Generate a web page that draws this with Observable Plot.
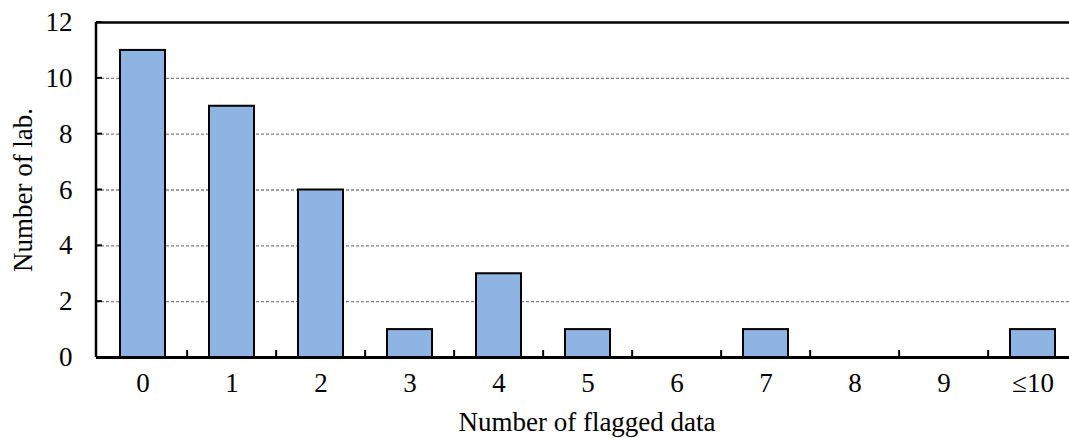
<!DOCTYPE html>
<html>
<head>
<meta charset="utf-8">
<script src="https://cdn.jsdelivr.net/npm/d3@7"></script>
<script src="https://cdn.jsdelivr.net/npm/@observablehq/plot@0.6"></script>
<style>
  html, body { margin: 0; padding: 0; background: #fff; }
  #chart svg { display: block; }
  #chart svg, #chart svg text { font-family: 'Liberation Serif', serif !important; }
</style>
</head>
<body>
<div id="chart"></div>
<script>
const categories = ["0", "1", "2", "3", "4", "5", "6", "7", "8", "9", "≤10"];
const counts = [11, 9, 6, 1, 3, 1, 0, 1, 0, 0, 1];
const yTicks = [0, 2, 4, 6, 8, 10, 12];
const gridValues = [2, 4, 6, 8, 10];
const xTitle = "Number of flagged data";
const yTitle = "Number of lab.";

const data = categories.map((c, i) => ({cat: c, n: counts[i]}));

const W = 1069, H = 438;
const xRange = [96, 1078];
const step = (xRange[1] - xRange[0]) / categories.length;
const font = "'Liberation Serif', serif";

// left axis line, inward y ticks and band-boundary ticks on the x axis
const extras = (index, scales, values, dims) => {
  const g = d3.create("svg:g");
  const x0 = dims.marginLeft;
  g.append("line").attr("x1", x0).attr("x2", x0)
    .attr("y1", scales.y(12)).attr("y2", scales.y(0))
    .attr("stroke", "#000").attr("stroke-width", 2.5);
  for (const t of yTicks) {
    g.append("line").attr("x1", x0).attr("x2", x0 + 6)
      .attr("y1", scales.y(t)).attr("y2", scales.y(t))
      .attr("stroke", "#000").attr("stroke-width", 2);
  }
  for (let i = 0; i < categories.length - 1; i++) {
    const bx = scales.x(categories[i]) + scales.x.bandwidth() / 2 + step / 2;
    g.append("line").attr("x1", bx).attr("x2", bx)
      .attr("y1", scales.y(0)).attr("y2", scales.y(0) - 7)
      .attr("stroke", "#000").attr("stroke-width", 2);
  }
  return g.node();
};

const chart = Plot.plot({
  width: W,
  height: H,
  marginLeft: 96,
  marginRight: 0,
  marginTop: 22,
  marginBottom: 81,
  style: {fontFamily: font, fontSize: "27px", color: "#000", background: "#fff"},
  x: {domain: categories, range: xRange, paddingInner: 0.5, paddingOuter: 0.25},
  y: {domain: [0, 12]},
  marks: [
    Plot.ruleY(gridValues, {stroke: "#808080", strokeWidth: 1.3, strokeDasharray: "3,2"}),
    Plot.barY(data, {x: "cat", y: "n", fill: "#8DB4E2", stroke: "#000", strokeWidth: 2}),
    Plot.ruleY([0], {stroke: "#000", strokeWidth: 3}),
    Plot.ruleY([12], {stroke: "#000", strokeWidth: 2.5}),
    extras,
    Plot.axisY({ticks: yTicks, tickSize: 0, tickPadding: 24, fontSize: 27, fill: "#000", label: null}),
    Plot.axisX({tickSize: 0, tickPadding: 15, fontSize: 27, fill: "#000", label: null}),
    Plot.text([xTitle], {frameAnchor: "bottom", dx: 4, dy: 65, fontSize: 27, fill: "#000", textAnchor: "middle", lineAnchor: "middle"}),
    Plot.text([yTitle], {frameAnchor: "left", dx: -73, rotate: -90, fontSize: 27, fill: "#000", textAnchor: "middle", lineAnchor: "middle"})
  ]
});
document.getElementById("chart").appendChild(chart);
</script>
</body>
</html>
